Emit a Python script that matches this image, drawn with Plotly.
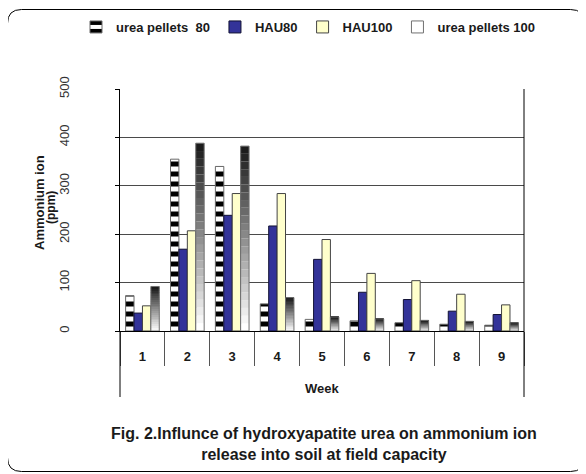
import plotly.graph_objects as go

weeks = ["1", "2", "3", "4", "5", "6", "7", "8", "9"]
urea_pellets_80 = [73, 355, 340, 56, 24, 21, 17, 14, 12]
hau80 = [37, 169, 239, 217, 148, 80, 65, 41, 34]
hau100 = [52, 207, 284, 284, 189, 119, 104, 76, 54]
urea_pellets_100 = [92, 388, 382, 69, 29, 25, 22, 20, 17]

# page has an 8px body margin; figure is sized to fit the 586x474 window
OFF = 8
W, H = 586 - OFF, 474 - OFF
PL, PT, PW, PH = 120, 89, 404, 242      # plot area in page pixels
L, T = PL - OFF, PT - OFF
R, B = W - L - PW, H - T - PH

def px_x(p):
    return (p - PL) / PW

def px_y(p):
    return (PT + PH - p) / PH

FONT = "Arial, Liberation Sans, Helvetica, sans-serif"

fig = go.Figure()

fig.add_trace(go.Bar(
    x=weeks, y=urea_pellets_80, name="urea pellets  80", offsetgroup="a",
    marker=dict(color="white", line=dict(color="#6a6a6a", width=1),
                pattern=dict(shape="-", fgcolor="black", bgcolor="white",
                             size=10, solidity=0.5, fillmode="replace")),
))
fig.add_trace(go.Bar(
    x=weeks, y=hau80, name="HAU80", offsetgroup="b",
    marker=dict(color="#333399", line=dict(color="#111133", width=1)),
))
fig.add_trace(go.Bar(
    x=weeks, y=hau100, name="HAU100", offsetgroup="c",
    marker=dict(color="#FFFFCC", line=dict(color="#444444", width=1)),
))

# gradient bars (dark top to white bottom), built as stacked slices of each value
N = 24
for k in range(N):
    frac = k / (N - 1)
    g = int(255 - frac * (255 - 28))
    fig.add_trace(go.Bar(
        x=weeks,
        y=[v / N for v in urea_pellets_100],
        base=[v * k / N for v in urea_pellets_100],
        offsetgroup="d", showlegend=False, hoverinfo="skip",
        marker=dict(color=f"rgb({g},{g},{g})", line=dict(width=0)),
    ))
fig.add_trace(go.Bar(
    x=weeks, y=urea_pellets_100, name="urea pellets 100", offsetgroup="d",
    marker=dict(color="rgba(0,0,0,0)", line=dict(color="#707070", width=1)),
))

fig.update_layout(
    width=W, height=H, autosize=False,
    margin=dict(l=L, r=R, t=T, b=B, autoexpand=False),
    paper_bgcolor="white", plot_bgcolor="white",
    barmode="group", bargap=0.25, bargroupgap=0,
    font=dict(family=FONT, color="#1a1a1a", size=12),
    legend=dict(orientation="h", x=px_x(76), xanchor="left", y=px_y(27), yanchor="middle",
                font=dict(family=FONT, size=13, weight="bold", color="#1a1a1a"),
                bgcolor="rgba(0,0,0,0)", traceorder="normal"),
    showlegend=True,
)

fig.update_yaxes(
    range=[0, 500], dtick=100, tickangle=-90,
    showgrid=True, gridcolor="#4a4a4a", gridwidth=1,
    showline=True, linecolor="black", linewidth=1,
    ticks="outside", ticklen=4, tickcolor="black",
    ticklabelstandoff=41,
    tickfont=dict(family=FONT, size=13, color="#333333"),
    zeroline=False,
)
fig.update_xaxes(
    type="category", showgrid=False,
    showline=True, linecolor="black", linewidth=1,
    ticks="outside", tickson="boundaries", ticklen=34, tickcolor="#555555",
    ticklabelstandoff=13,
    tickfont=dict(family=FONT, size=13, weight="bold", color="#1a1a1a"),
)

# extended frame lines below the axis and right border
ext = px_y(397)
fig.add_shape(type="line", xref="x domain", yref="y domain", x0=0, x1=0, y0=0, y1=ext,
              line=dict(color="black", width=1))
fig.add_shape(type="line", xref="x domain", yref="y domain", x0=1, x1=1, y0=1, y1=ext,
              line=dict(color="black", width=1))

# rounded outer frame
x0, x1 = px_x(7.5), px_x(584.5)
y0, y1 = px_y(471.5), px_y(9.5)
rx, ry = 14 / PW, 14 / PH
path = (f"M {x0+rx},{y1} L {x1-rx},{y1} Q {x1},{y1} {x1},{y1-ry} "
        f"L {x1},{y0+ry} Q {x1},{y0} {x1-rx},{y0} L {x0+rx},{y0} Q {x0},{y0} {x0},{y0+ry} "
        f"L {x0},{y1-ry} Q {x0},{y1} {x0+rx},{y1} Z")
fig.add_shape(type="path", xref="paper", yref="paper", path=path,
              line=dict(color="black", width=1))

# axis titles and caption
fig.add_annotation(text="<b>Ammonium ion</b>", textangle=-90,
                   xref="paper", yref="paper", x=px_x(39), y=px_y(203),
                   xanchor="center", yanchor="middle", showarrow=False,
                   font=dict(family=FONT, size=13, color="#1a1a1a"))
fig.add_annotation(text="<b>(ppm)</b>", textangle=-90,
                   xref="paper", yref="paper", x=px_x(51), y=px_y(208),
                   xanchor="center", yanchor="middle", showarrow=False,
                   font=dict(family=FONT, size=12, color="#1a1a1a"))
fig.add_annotation(text="<b>Week</b>", xref="paper", yref="paper",
                   x=0.5, y=px_y(388), xanchor="center", yanchor="middle", showarrow=False,
                   font=dict(family=FONT, size=13, color="#1a1a1a"))
fig.add_annotation(text="<b>Fig. 2.Influnce of hydroxyapatite urea on ammonium ion<br>release into soil at field capacity</b>",
                   xref="paper", yref="paper", x=px_x(323.5), y=px_y(444),
                   xanchor="center", yanchor="middle", showarrow=False,
                   font=dict(family=FONT, size=16, color="#1a1a1a"))

fig.write_html("out.html")
